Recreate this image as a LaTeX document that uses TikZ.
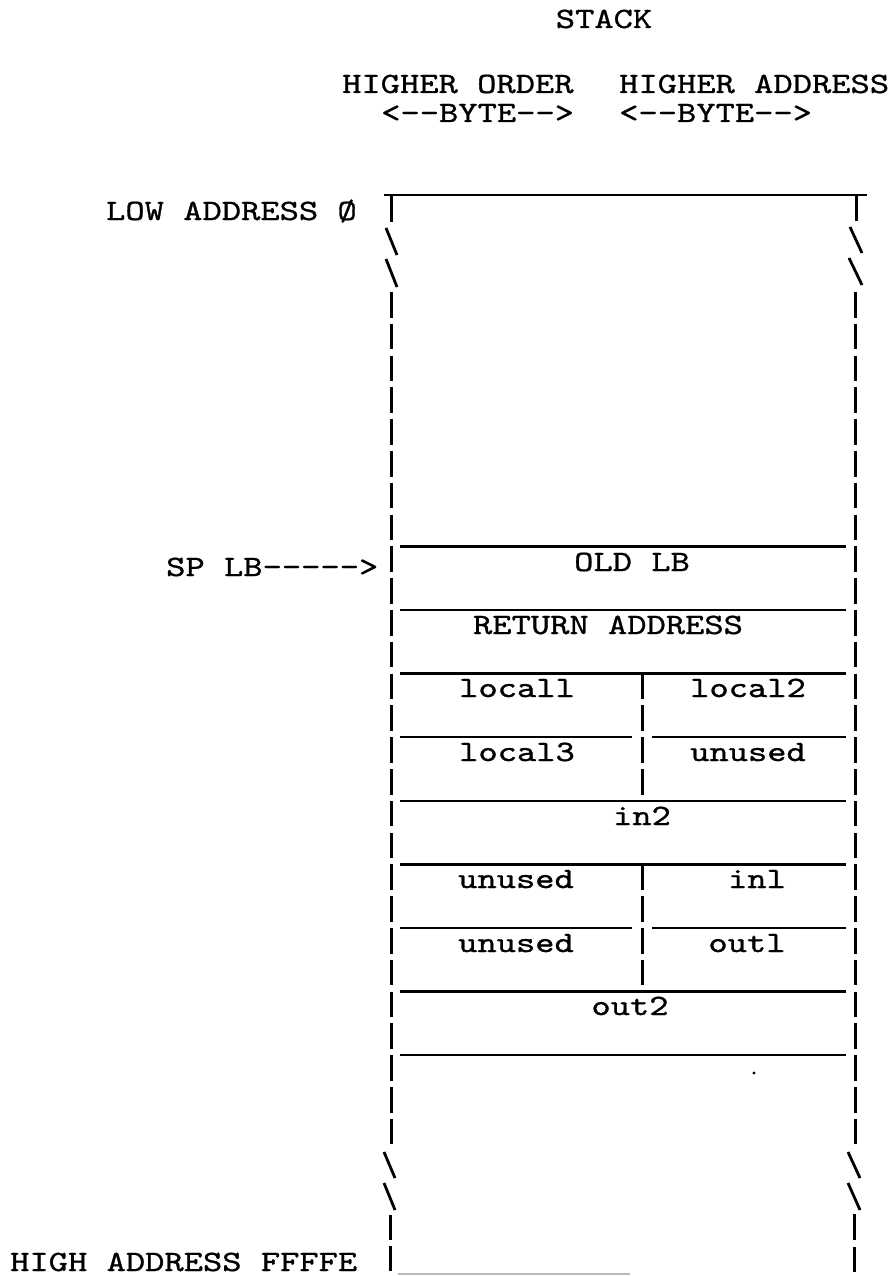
\documentclass[tikz,border=0pt]{standalone}
\usepackage{fontspec}
\newfontfamily\tw{lmmono10-regular.otf}[FakeStretch=1.245,FakeBold=1.0]
\begin{document}
\begin{tikzpicture}[x=1pt,y=-1pt,
  lbl/.style={font=\tw\fontsize{29.5}{36}\selectfont, inner sep=0pt, anchor=base},
  lblw/.style={lbl, anchor=base west},
  lble/.style={lbl, anchor=base east},
  rule/.style={line width=2.3pt},
  bar/.style={line width=3pt, dash pattern=on 25.5pt off 6.3pt},
  tick/.style={line width=3pt},
  slash/.style={line width=2.8pt}]
\useasboundingbox (0,0) rectangle (887,1276);

% header
\node[lbl] (stack) at (604,28) {STACK};
\node[lblw] (hord) at (342,93) {HIGHER ORDER};
\node[lblw] (hadr) at (619,93) {HIGHER ADDRESS};
\node[lblw] (byte1) at (381,122) {<--BYTE-->};
\node[lblw] (byte2) at (619,122) {<--BYTE-->};

% left labels
\node[lble] (low) at (357,220) {LOW ADDRESS Ø};
\node[lblw] (sp) at (166,576) {SP LB----->};
\node[lblw] (high) at (10,1271) {HIGH ADDRESS FFFFE};

% top bar and upper breaks
\draw[rule] (384,195) -- (867,195);
\draw[tick] (391,195) -- (391,222);
\draw[tick] (856,195) -- (856,221);
\draw[slash] (386,228) -- (397,255);
\draw[slash] (386,259) -- (397,287);
\draw[slash] (850,227) -- (862,253);
\draw[slash] (849,258) -- (862,285);

% long dashed sides
\draw[bar] (391,292) -- (391,1145);
\draw[bar] (855,292) -- (855,1145);

% lower breaks
\draw[slash] (384,1152) -- (395,1178);
\draw[slash] (384,1183) -- (395,1210);
\draw[slash] (848,1152) -- (860,1178);
\draw[slash] (848,1183) -- (860,1210);
\draw[tick] (390,1215) -- (390,1240);
\draw[tick] (390,1246) -- (390,1271);
\draw[tick] (854,1214) -- (854,1240);
\draw[tick] (854,1247) -- (854,1272);
\draw[gray!55, line width=1.4pt] (398,1274) -- (630,1274);

% horizontal rules
\foreach \yy in {546.4,610,673.6,800.8,864.4,991.6,1055.2}
  \draw[rule] (400,\yy) -- (846,\yy);
\foreach \yy in {737.2,928}{
  \draw[rule] (400,\yy) -- (632,\yy);
  \draw[rule] (652,\yy) -- (846,\yy);
}

% middle dividers
\draw[bar] (642,673.6) -- (642,800);
\draw[bar] (642,864.4) -- (642,991);

% cell texts
\node[lbl] (oldlb) at (632,571) {OLD LB};
\node[lbl] (ret) at (608,634) {RETURN ADDRESS};
\node[lbl] (l1) at (517,697) {locall};
\node[lbl] (l2) at (748,697) {local2};
\node[lbl] (l3) at (517,761) {local3};
\node[lbl] (u1) at (748,761) {unused};
\node[lbl] (in2) at (642,825) {in2};
\node[lbl] (u2) at (516,888) {unused};
\node[lbl] (in1) at (757,888) {inl};
\node[lbl] (u3) at (516,952) {unused};
\node[lbl] (out1) at (747,952) {outl};
\node[lbl] (out2) at (630,1015) {out2};

% stray dot
\fill (754,1073) circle (1.6);
\end{tikzpicture}
\end{document}
